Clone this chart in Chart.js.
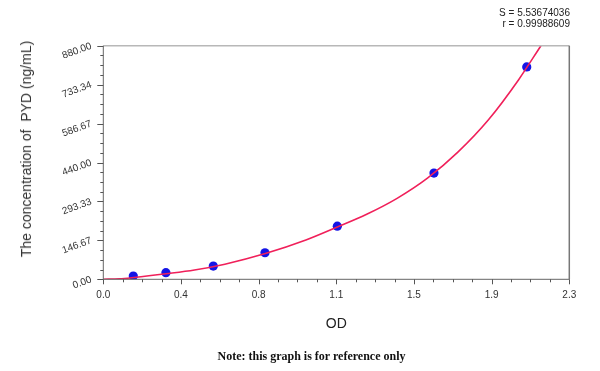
<!DOCTYPE html>
<html>
<head>
<meta charset="utf-8">
<script src="https://cdn.jsdelivr.net/npm/chart.js@4.4.1/dist/chart.umd.min.js"></script>
<style>
  html, body { margin: 0; padding: 0; background: #fff; }
  #wrap { position: relative; width: 600px; height: 371px; }
  #grafico { position: absolute; left: 0; top: 0; }
  .stat { position: absolute; right: 30px; font: 10px "Liberation Sans", Arial, sans-serif; color: #222; text-align: right; }
  #ytitle { position: absolute; left: 26px; top: 149px; transform: translate(-50%, -50%) rotate(-90deg);
            white-space: pre; font: 14px "Liberation Sans", Arial, sans-serif; color: #333; }
  #note { position: absolute; left: 0; width: 623px; top: 349px; text-align: center;
          font: bold 12px "Liberation Serif", "Times New Roman", serif; color: #111; }
</style>
</head>
<body>
<div id="wrap">
  <canvas id="grafico" width="600" height="371"></canvas>
  <div class="stat" style="top:7px">S = 5.53674036</div>
  <div class="stat" style="top:18px">r = 0.99988609</div>
  <div id="ytitle">The concentration of  PYD (ng/mL)</div>
  <div id="note">Note: this graph is for reference only</div>
</div>
<script>
// === DATI ===
const standardOD = [0.148, 0.309, 0.543, 0.798, 1.155, 1.632, 2.090];
const standardConc = [12.5, 25, 50, 100, 200, 400, 800];
// curva di calibrazione
const curvaOD = [0, 0.08, 0.15, 0.31, 0.45, 0.60, 0.80, 1.00, 1.155, 1.30, 1.45, 1.60, 1.75, 1.90, 2.05, 2.16];
const curvaConc = [0, 2, 7, 21, 35, 57, 97, 148, 197, 245, 305, 381, 479, 600, 752, 880];
// assi
const xTickValues = [0, 0.3833, 0.7667, 1.15, 1.5333, 1.9167, 2.3];
const xTickLabels = ['0.0', '0.4', '0.8', '1.1', '1.5', '1.9', '2.3'];
const yTickValues = [0, 146.667, 293.333, 440, 586.667, 733.333, 880];
const yTickLabels = ['0.00', '146.67', '293.33', '440.00', '586.67', '733.34', '880.00'];

const FONT = '"Liberation Sans", Arial, sans-serif';

// === PLUGIN: assi, tacche e cornice ===
const assiPlugin = {
    id: 'assi',
    afterDraw(chart) {
        const c = chart.ctx;
        const a = chart.chartArea;
        const xs = chart.scales.x;
        const ys = chart.scales.y;
        c.save();
        // cornice alta e destra
        c.lineWidth = 1.5;
        c.strokeStyle = '#b8b8b8';
        c.beginPath();
        c.moveTo(a.left, a.top); c.lineTo(a.right, a.top);
        c.stroke();
        c.strokeStyle = '#777';
        c.beginPath();
        c.moveTo(a.right, a.top); c.lineTo(a.right, a.bottom);
        c.stroke();
        // assi
        c.strokeStyle = '#666';
        c.lineWidth = 1;
        c.beginPath();
        c.moveTo(a.left, a.top); c.lineTo(a.left, a.bottom); c.lineTo(a.right, a.bottom);
        c.stroke();
        // tacche (principali e secondarie)
        c.strokeStyle = '#555';
        c.beginPath();
        for (let i = 0; i < xTickValues.length; i++) {
            for (let k = 0; k < 4; k++) {
                if (i === xTickValues.length - 1 && k > 0) break;
                const v = xTickValues[i] + k * (2.3 / 6) / 4;
                const px = Math.round(xs.getPixelForValue(v)) + 0.5;
                c.moveTo(px, a.bottom);
                c.lineTo(px, a.bottom + (k === 0 ? 5 : 3));
            }
        }
        for (let i = 0; i < yTickValues.length; i++) {
            for (let k = 0; k < 4; k++) {
                if (i === yTickValues.length - 1 && k > 0) break;
                const v = yTickValues[i] + k * (880 / 6) / 4;
                const py = Math.round(ys.getPixelForValue(v)) + 0.5;
                c.moveTo(a.left, py);
                c.lineTo(a.left - (k === 0 ? 6 : 3), py);
            }
        }
        c.stroke();
        c.restore();
    }
};

// === GRAFICO ===
const ctx = document.getElementById('grafico').getContext('2d');
const chart = new Chart(ctx, {
    type: 'scatter',
    data: {
        datasets: [
            {
                label: 'Curva',
                type: 'line',
                data: curvaOD.map((x, i) => ({ x: x, y: curvaConc[i] })),
                borderColor: '#f0205a',
                borderWidth: 1.6,
                pointRadius: 0,
                cubicInterpolationMode: 'monotone',
                fill: false
            },
            {
                label: 'Standard',
                data: standardOD.map((x, i) => ({ x: x, y: standardConc[i] })),
                backgroundColor: '#1414e6',
                borderColor: '#1414e6',
                pointRadius: 4.6,
                borderWidth: 0
            }
        ]
    },
    plugins: [assiPlugin],
    options: {
        responsive: false,
        animation: false,
        events: [],
        layout: { padding: { left: 0, top: 45.7, right: 30.7, bottom: 0 } },
        plugins: { legend: { display: false }, tooltip: { enabled: false } },
        scales: {
            x: {
                type: 'linear',
                min: 0,
                max: 2.3,
                border: { display: false },
                grid: { display: false, drawTicks: false },
                afterBuildTicks: s => { s.ticks = xTickValues.map(v => ({ value: v })); },
                afterFit: s => { s.height = 91.7; },
                ticks: {
                    padding: 10,
                    autoSkip: false,
                    maxRotation: 0,
                    font: { family: FONT, size: 10 },
                    color: '#333',
                    callback: (v, i) => xTickLabels[i]
                },
                title: {
                    display: true,
                    text: 'OD',
                    font: { family: FONT, size: 14 },
                    color: '#222',
                    padding: { top: 0, bottom: 38 }
                }
            },
            y: {
                type: 'linear',
                min: 0,
                max: 880,
                border: { display: false },
                grid: { display: false, drawTicks: false },
                afterBuildTicks: s => { s.ticks = yTickValues.map(v => ({ value: v })); },
                afterFit: s => { s.width = 103.3; },
                ticks: {
                    padding: 12,
                    autoSkip: false,
                    minRotation: 20,
                    maxRotation: 20,
                    font: { family: FONT, size: 10 },
                    color: '#333',
                    callback: (v, i) => yTickLabels[i]
                }
            }
        }
    }
});
</script>
</body>
</html>
